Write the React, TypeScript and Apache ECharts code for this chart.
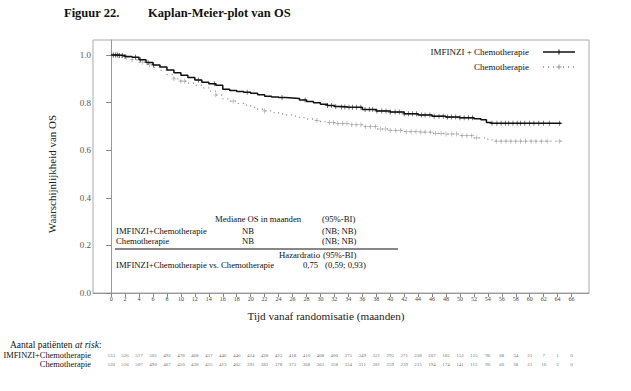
import React, { useEffect, useRef } from "react";
import * as echarts from "echarts";

const monthTicks = [0, 2, 4, 6, 8, 10, 12, 14, 16, 18, 20, 22, 24, 26, 28, 30, 32, 34, 36, 38, 40, 42, 44, 46, 48, 50, 52, 54, 56, 58, 60, 62, 64, 66];
const yTicks = [0, 0.2, 0.4, 0.6, 0.8, 1.0];

const imfinziCurve: [number, number][] = [
  [0, 1.0], [1, 0.998], [2, 0.994], [3, 0.99], [4, 0.98], [5, 0.968], [6, 0.958], [7, 0.95], [8, 0.937],
  [9, 0.925], [10, 0.915], [11, 0.905], [12, 0.895], [13, 0.886], [14, 0.879], [15, 0.873], [16, 0.856],
  [17, 0.851], [18, 0.847], [19, 0.843], [20, 0.839], [21, 0.833], [22, 0.827], [23, 0.824], [24, 0.821],
  [25, 0.819], [26, 0.817], [27, 0.811], [28, 0.805], [29, 0.799], [30, 0.793], [31, 0.788], [32, 0.784],
  [33, 0.782], [34, 0.78], [36, 0.771], [38, 0.765], [40, 0.76], [42, 0.753], [44, 0.748], [46, 0.743],
  [48, 0.739], [50, 0.736], [52, 0.732], [53, 0.728], [53.8, 0.716], [54.5, 0.713], [64.5, 0.713],
];
const chemoCurve: [number, number][] = [
  [0, 1.0], [1, 0.997], [2, 0.99], [3, 0.98], [4, 0.97], [5, 0.96], [6, 0.948], [7, 0.935], [8, 0.918],
  [9, 0.9], [10, 0.89], [11, 0.882], [12, 0.872], [13, 0.862], [14, 0.848], [15, 0.832], [16, 0.816],
  [17, 0.806], [18, 0.797], [19, 0.789], [20, 0.78], [21, 0.772], [22, 0.765], [23, 0.758], [24, 0.752],
  [25, 0.748], [26, 0.743], [27, 0.737], [28, 0.731], [29, 0.725], [30, 0.72], [31, 0.716], [32, 0.712],
  [34, 0.707], [36, 0.699], [38, 0.689], [40, 0.683], [42, 0.678], [44, 0.676], [46, 0.671], [48, 0.668],
  [50, 0.661], [52, 0.652], [54, 0.643], [55, 0.638], [64.5, 0.638],
];

const imfinziCensor = [0.3, 0.6, 0.9, 1.2, 1.6, 2.0, 3.5, 4.2, 5.3, 6.1, 12.5, 14.8, 19.5, 24.5, 27.8, 31.0, 31.6, 32.2, 33.0, 33.5, 34.1, 34.6, 35.2, 35.8, 36.4, 37.0, 37.5, 38.1, 38.8, 39.4, 40.0, 40.7, 41.3, 42.0, 42.6, 43.2, 43.8, 44.5, 45.0, 45.7, 46.3, 47.0, 47.6, 48.2, 48.8, 49.4, 50.0, 50.6, 51.2, 51.8, 54.6, 55.3, 55.9, 56.5, 57.0, 57.6, 58.2, 58.7, 59.3, 60.0, 60.6, 61.3, 62.0, 62.8, 64.3];
const chemoCensor = [0.3, 0.7, 1.1, 1.5, 2.2, 3.0, 4.5, 5.5, 9.0, 10.0, 10.5, 15.0, 17.5, 22.0, 29.5, 31.3, 31.9, 32.5, 33.2, 33.8, 34.5, 35.1, 35.8, 36.5, 37.2, 37.9, 38.6, 39.3, 40.0, 40.8, 41.5, 42.3, 43.0, 43.7, 44.4, 45.0, 45.8, 46.5, 47.3, 48.0, 48.8, 49.5, 50.3, 51.0, 51.7, 52.4, 55.2, 55.9, 56.6, 57.3, 58.0, 58.7, 59.4, 60.2, 60.9, 61.7, 62.5, 64.3];

const riskImfinzi = [533, 526, 517, 505, 492, 478, 468, 457, 446, 440, 434, 428, 423, 418, 410, 408, 400, 375, 349, 321, 295, 271, 238, 207, 182, 152, 125, 96, 68, 34, 21, 7, 1, 0];
const riskChemo = [530, 516, 507, 490, 467, 450, 438, 425, 413, 402, 392, 383, 378, 373, 368, 363, 358, 334, 311, 281, 259, 239, 215, 194, 174, 141, 113, 90, 60, 38, 21, 10, 2, 0];

const FONT = "'Liberation Serif', 'Times New Roman', serif";
const PLUS = "path://M4.3,0h1.4v4.3h4.3v1.4h-4.3v4.3h-1.4v-4.3h-4.3v-1.4h4.3z";

function survAt(curve: [number, number][], t: number): number {
  let v = curve[0][1];
  for (const [x, y] of curve) {
    if (x <= t) v = y;
  }
  return v;
}

function txt(text: string, x: number, y: number, opts: any = {}) {
  return {
    type: "text",
    x,
    y,
    style: {
      text,
      fontFamily: FONT,
      fontSize: opts.size || 8.7,
      fontWeight: opts.weight || "normal",
      fill: opts.color || "#111",
      textAlign: opts.align || "left",
      textVerticalAlign: "middle",
    },
  };
}

export default function App() {
  const ref = useRef<HTMLDivElement>(null);
  useEffect(() => {
    if (!ref.current) return;
    const chart = echarts.init(ref.current, undefined, { renderer: "svg" });
    const xMin = -2.6;
    const xMax = 68.5;
    chart.setOption({
      animation: false,
      backgroundColor: "#fff",
      textStyle: { fontFamily: FONT },
      grid: [
        { left: 93, top: 40, width: 496, height: 253, show: true, borderColor: "#aaa", borderWidth: 1, backgroundColor: "transparent" },
        { left: 93, top: 351, width: 496, height: 18, show: false },
      ],
      xAxis: [
        {
          type: "value",
          gridIndex: 0,
          min: xMin,
          max: xMax,
          splitLine: { show: false },
          axisLine: { show: true, onZero: false, lineStyle: { color: "#999" } },
          axisTick: { show: true, customValues: monthTicks, length: 4, lineStyle: { color: "#888" } },
          axisLabel: { customValues: monthTicks, fontSize: 6, color: "#444", fontFamily: FONT, margin: 3 },
        },
        { type: "value", gridIndex: 1, min: xMin, max: xMax, show: false },
      ],
      yAxis: [
        {
          type: "value",
          gridIndex: 0,
          min: 0,
          max: 1.063,
          splitLine: { show: false },
          axisLine: { show: true, lineStyle: { color: "#999" } },
          axisTick: { show: true, customValues: yTicks, length: 5, lineStyle: { color: "#888" } },
          axisLabel: { customValues: yTicks, fontSize: 9, color: "#555", fontFamily: FONT, margin: 2, formatter: (v: number) => v.toFixed(1) },
        },
        { type: "value", gridIndex: 1, min: 0, max: 2, show: false },
      ],
      series: [
        {
          type: "line",
          name: "Chemotherapie",
          data: chemoCurve,
          step: "end",
          showSymbol: false,
          lineStyle: { color: "#888", width: 1.3, type: [1, 4] },
          z: 2,
        },
        {
          type: "scatter",
          data: chemoCensor.map((t) => [t, survAt(chemoCurve, t)]),
          symbol: PLUS,
          symbolSize: 5,
          itemStyle: { color: "#999" },
          z: 2,
        },
        {
          type: "line",
          name: "IMFINZI + Chemotherapie",
          data: imfinziCurve,
          step: "end",
          showSymbol: false,
          lineStyle: { color: "#111", width: 1.5 },
          z: 3,
        },
        {
          type: "scatter",
          data: imfinziCensor.map((t) => [t, survAt(imfinziCurve, t)]),
          symbol: PLUS,
          symbolSize: 5,
          itemStyle: { color: "#111" },
          z: 3,
        },
        {
          type: "scatter",
          xAxisIndex: 1,
          yAxisIndex: 1,
          symbolSize: 0,
          data: riskImfinzi.map((v, i) => [monthTicks[i], 1.5, v]),
          label: { show: true, position: "inside", formatter: (p: any) => String(p.value[2]), fontSize: 5, color: "#444", fontFamily: FONT },
        },
        {
          type: "scatter",
          xAxisIndex: 1,
          yAxisIndex: 1,
          symbolSize: 0,
          data: riskChemo.map((v, i) => [monthTicks[i], 0.5, v]),
          label: { show: true, position: "inside", formatter: (p: any) => String(p.value[2]), fontSize: 5, color: "#444", fontFamily: FONT },
        },
      ],
      graphic: [
        txt("Figuur 22.", 64, 13, { size: 12.5, weight: "bold" }),
        txt("Kaplan-Meier-plot van OS", 148, 13, { size: 12.5, weight: "bold" }),
        {
          type: "text",
          x: 52,
          y: 174,
          rotation: Math.PI / 2,
          style: { text: "Waarschijnlijkheid van OS", fontFamily: FONT, fontSize: 11, fill: "#222", textAlign: "center", textVerticalAlign: "middle" },
        },
        txt("Tijd vanaf randomisatie (maanden)", 326, 316, { size: 11.2, align: "center", color: "#222" }),
        // legend
        txt("IMFINZI + Chemotherapie", 529, 52, { size: 9, align: "right" }),
        { type: "line", shape: { x1: 543, y1: 52, x2: 575, y2: 52 }, style: { stroke: "#111", lineWidth: 1.5 } },
        { type: "line", shape: { x1: 559, y1: 49.5, x2: 559, y2: 54.5 }, style: { stroke: "#111", lineWidth: 1 } },
        txt("Chemotherapie", 529, 67, { size: 9, align: "right" }),
        { type: "line", shape: { x1: 543, y1: 67, x2: 575, y2: 67 }, style: { stroke: "#888", lineWidth: 1.3, lineDash: [1, 4] } },
        { type: "line", shape: { x1: 556.5, y1: 67, x2: 561.5, y2: 67 }, style: { stroke: "#999", lineWidth: 1 } },
        { type: "line", shape: { x1: 559, y1: 64.5, x2: 559, y2: 69.5 }, style: { stroke: "#999", lineWidth: 1 } },
        // inset table
        txt("Mediane OS in maanden", 215, 219),
        txt("(95%-BI)", 322, 219),
        txt("IMFINZI+Chemotherapie", 116, 231),
        txt("NB", 242, 231),
        txt("(NB; NB)", 322, 231),
        txt("Chemotherapie", 116, 241),
        txt("NB", 242, 241),
        txt("(NB; NB)", 322, 241),
        { type: "line", shape: { x1: 115, y1: 249, x2: 398, y2: 249 }, style: { stroke: "#111", lineWidth: 1 } },
        txt("Hazardratio", 279, 255),
        txt("(95%-BI)", 323, 255),
        txt("IMFINZI+Chemotherapie vs. Chemotherapie", 116, 265),
        txt("0,75", 303, 265),
        txt("(0,59; 0,93)", 325, 265),
        // risk table
        {
          type: "text",
          x: 10,
          y: 345,
          style: {
            text: "{n|Aantal patiënten }{i|at risk}{n|:}",
            textVerticalAlign: "middle",
            rich: {
              n: { fontFamily: FONT, fontSize: 9.5, fill: "#111", color: "#111" },
              i: { fontFamily: FONT, fontSize: 9.5, fontStyle: "italic", fill: "#111", color: "#111" },
            },
          },
        },
        txt("IMFINZI+Chemotherapie", 91, 355.5, { size: 8.4, align: "right" }),
        txt("Chemotherapie", 91, 364.5, { size: 8.4, align: "right" }),
      ],
    });
    return () => chart.dispose();
  }, []);
  return <div ref={ref} style={{ width: 631, height: 391, position: "absolute", left: 0, top: 0 }} />;
}
